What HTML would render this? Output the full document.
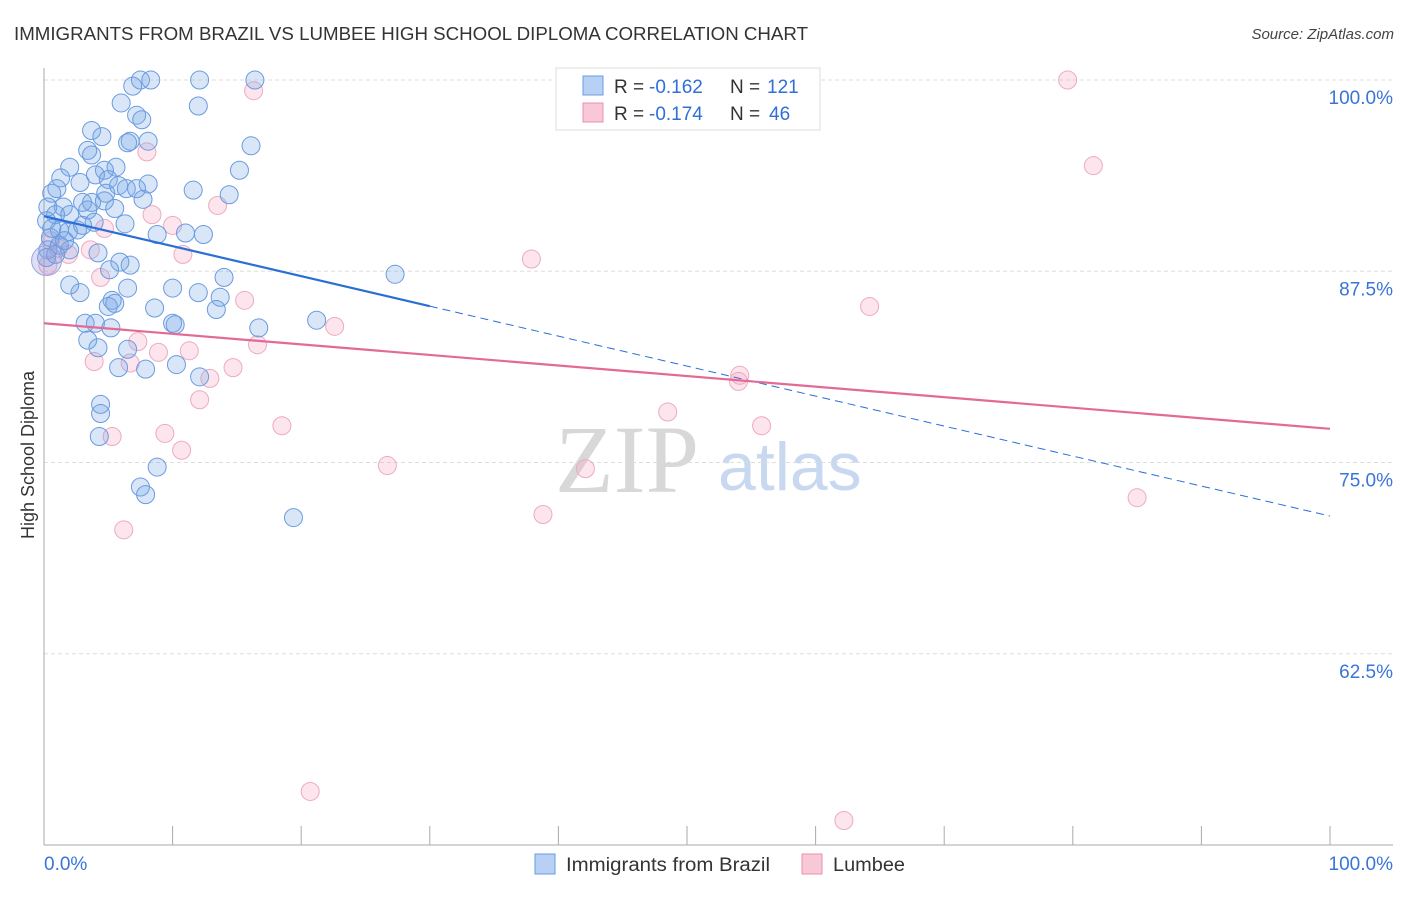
<!DOCTYPE html>
<html><head><meta charset="utf-8">
<style>
body{margin:0;background:#fff;font-family:"Liberation Sans",sans-serif;}
</style></head>
<body>
<svg id="chart" width="1406" height="892" xmlns="http://www.w3.org/2000/svg" font-family="Liberation Sans, sans-serif">
<text x="14" y="40" font-size="18" fill="#333" textLength="794" lengthAdjust="spacingAndGlyphs">IMMIGRANTS FROM BRAZIL VS LUMBEE HIGH SCHOOL DIPLOMA CORRELATION CHART</text>
<text x="1394" y="39" font-size="15" fill="#444" text-anchor="end" font-style="italic">Source: ZipAtlas.com</text>
<g>
<text x="555" y="492" font-size="96" fill="#d8d8d8" font-family="Liberation Serif, serif">ZIP</text>
<text x="718" y="490" font-size="68" fill="#c8d8f0">atlas</text>
</g>
<g id="grid"></g>
<g id="axes"></g>
<g id="pts"></g>
<g id="trend"></g>
<text transform="translate(34,455) rotate(-90)" font-size="18" fill="#333" text-anchor="middle">High School Diploma</text>
<g>
<rect x="556" y="68" width="264" height="62" fill="#fff" stroke="#ddd"/>
<rect x="583" y="76" width="20" height="19" fill="#b8d0f4" stroke="#6a9be0"/>
<rect x="583" y="103" width="20" height="19" fill="#f9c8d6" stroke="#e892ad"/>
<text x="614" y="93" font-size="19" fill="#333">R =</text>
<text x="649" y="93" font-size="19" fill="#2f6fd6">-0.162</text>
<text x="730" y="93" font-size="19" fill="#333">N =</text>
<text x="767" y="93" font-size="19" fill="#2f6fd6">121</text>
<text x="614" y="120" font-size="19" fill="#333">R =</text>
<text x="649" y="120" font-size="19" fill="#2f6fd6">-0.174</text>
<text x="730" y="120" font-size="19" fill="#333">N =</text>
<text x="769" y="120" font-size="19" fill="#2f6fd6">46</text>
</g>
<g>
<rect x="535" y="854" width="20" height="20" fill="#b8d0f4" stroke="#6a9be0"/>
<text x="566" y="871" font-size="19" fill="#333" textLength="204" lengthAdjust="spacingAndGlyphs">Immigrants from Brazil</text>
<rect x="802" y="854" width="20" height="20" fill="#f9c8d6" stroke="#e892ad"/>
<text x="833" y="871" font-size="19" fill="#333" textLength="72" lengthAdjust="spacingAndGlyphs">Lumbee</text>
</g>
</svg>
<script>
const blueX=[7.5,8.3,12.1,16.4,6.9,6.0,12.0,7.2,7.6,3.7,4.5,6.7,8.1,6.5,16.1,3.4,3.7,5.6,2.0,4.7,15.2,1.3,4.0,5.0,5.8,8.1,6.4,7.2,2.8,11.6,14.4,4.8,0.6,1.0,3.0,3.7,4.7,5.5,7.7,1.5,0.3,0.9,2.0,3.4,6.3,3.9,1.2,1.9,2.6,3.0,8.8,11.0,12.4,0.5,1.2,4.2,2.0,0.3,5.9,6.7,5.1,14.0,27.3,2.0,2.8,6.5,10.0,12.0,13.7,5.3,5.5,5.0,8.6,13.4,21.2,3.2,4.0,10.0,10.2,5.2,16.7,3.4,4.2,6.5,10.3,5.8,7.9,12.1,4.4,4.4,4.3,8.8,7.5,7.9,19.4,0.2,0.6,0.2,0.9,1.6];
const blueY=[100,100,100,100,99.6,98.5,98.3,97.7,97.4,96.7,96.3,96.0,96.0,95.9,95.7,95.4,95.1,94.3,94.3,94.1,94.1,93.6,93.8,93.5,93.1,93.2,92.9,92.9,93.3,92.8,92.5,92.6,92.6,92.9,92.0,92.0,92.1,91.6,92.2,91.7,91.7,91.2,91.2,91.5,90.6,90.7,90.2,90.1,90.2,90.5,89.9,90.0,89.9,89.7,89.2,88.7,88.9,88.9,88.1,87.9,87.6,87.1,87.3,86.6,86.1,86.4,86.4,86.1,85.8,85.6,85.4,85.2,85.1,85.0,84.3,84.1,84.1,84.1,84.0,83.8,83.8,83.0,82.5,82.4,81.4,81.2,81.1,80.6,78.8,78.2,76.7,74.7,73.4,72.9,71.4,90.8,90.3,88.4,88.6,89.5];
const pinkX=[79.6,16.3,8.0,81.6,13.5,8.4,10.0,10.8,37.9,1.1,1.9,3.6,4.7,15.6,4.4,64.2,22.6,16.6,7.3,8.9,11.3,3.9,6.7,14.7,12.9,54.1,54.0,12.1,48.5,18.5,55.8,5.3,9.4,10.7,26.7,42.1,85.0,38.8,6.2,20.7,62.2,0.5,0.3];
const pinkY=[100,99.3,95.3,94.4,91.8,91.2,90.5,88.6,88.3,89.0,88.6,88.9,90.3,85.6,87.1,85.2,83.9,82.7,82.9,82.2,82.3,81.6,81.5,81.2,80.5,80.7,80.3,79.1,78.3,77.4,77.4,76.7,76.9,75.8,74.8,74.6,72.7,71.6,70.6,53.5,51.6,89.5,87.9];
const yTicks=[100,87.5,75,62.5];
const yTickLabels=["100.0%","87.5%","75.0%","62.5%"];
const xTicks=[0,10,20,30,40,50,60,70,80,90,100];
const blueTrend=[91.1,71.5];
const pinkTrend=[84.1,77.2];
const blueSolidEnd=30;

const NS="http://www.w3.org/2000/svg";
const X=v=>44+v*12.86;
const Y=v=>80+(100-v)*15.3;
function mk(t,a,p){const e=document.createElementNS(NS,t);for(const k in a)e.setAttribute(k,a[k]);p.appendChild(e);return e;}
const grid=document.getElementById('grid'),axes=document.getElementById('axes'),pts=document.getElementById('pts'),tr=document.getElementById('trend');
yTicks.forEach((v,i)=>{
 const l=mk('line',{x1:44,x2:1393,y1:Y(v),y2:Y(v),stroke:'#ddd','stroke-dasharray':'4,3'},grid);
 
 
 const t=mk('text',{x:1393,y:Y(v)+24,'font-size':19,fill:'#3a74d8','text-anchor':'end'},axes);
 t.textContent=yTickLabels[i];
 
 
});
const ax=mk('line',{x1:44,x2:44,y1:68,y2:845,stroke:'#aaa'},axes);


const bx=mk('line',{x1:44,x2:1393,y1:845,y2:845,stroke:'#aaa'},axes);


xTicks.forEach(v=>{
 const l=mk('line',{x1:X(v),x2:X(v),y1:826,y2:845,stroke:'#aaa'},axes);
 
 
});
[["0.0%",44,'start'],["100.0%",1393,'end']].forEach(d=>{
 const t=mk('text',{x:d[1],y:870,'font-size':19,fill:'#3a74d8','text-anchor':d[2]},axes);
 t.textContent=d[0];
 
 
});
pinkX.forEach((v,i)=>{
 const c=mk('circle',{cx:X(v),cy:Y(pinkY[i]),r:9,fill:'rgba(244,160,190,0.28)',stroke:'#eeaac0','stroke-width':1},pts);
 
 
});
blueX.forEach((v,i)=>{
 const c=mk('circle',{cx:X(v),cy:Y(blueY[i]),r:9,fill:'rgba(120,165,230,0.28)',stroke:'#6a9be0','stroke-width':1},pts);
 
 
});
const big=mk('circle',{cx:X(0.2),cy:Y(88.2),r:15,fill:'rgba(150,150,220,0.3)',stroke:'#9aa6dc'},pts);


const bAt=x=>blueTrend[0]+(blueTrend[1]-blueTrend[0])*x/100;
const l1=mk('line',{x1:X(0),y1:Y(bAt(0)),x2:X(blueSolidEnd),y2:Y(bAt(blueSolidEnd)),stroke:'#2a6fd6','stroke-width':2.2},tr);


const l2=mk('line',{x1:X(blueSolidEnd),y1:Y(bAt(blueSolidEnd)),x2:X(100),y2:Y(bAt(100)),stroke:'#2a6fd6','stroke-width':1,'stroke-dasharray':'8,5'},tr);


const l3=mk('line',{x1:X(0),y1:Y(pinkTrend[0]),x2:X(100),y2:Y(pinkTrend[1]),stroke:'#e46a96','stroke-width':2.2},tr);


</script>
</body></html>
